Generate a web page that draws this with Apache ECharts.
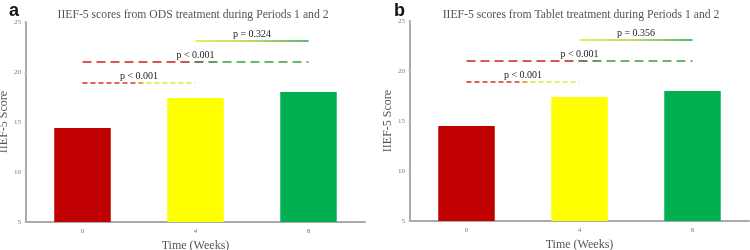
<!DOCTYPE html>
<html>
<head>
<meta charset="utf-8">
<script src="https://cdn.jsdelivr.net/npm/echarts@6/dist/echarts.min.js"></script>
<style>
  html, body { margin: 0; padding: 0; background: #fff; }
  #chart { width: 750px; height: 250px; }
</style>
</head>
<body>
<div id="chart"></div>
<script>
  // data
  const weeks = ['0', '4', '8'];
  const odsScores = [14.4, 17.4, 18.0];
  const tabletScores = [14.5, 17.4, 18.0];
  const odsPValues = ['p < 0.001', 'p < 0.001', 'p = 0.324'];
  const tabletPValues = ['p < 0.001', 'p < 0.001', 'p = 0.356'];
  const bracketLevels = [18.9, 21.0, 23.1];
  const bracketPairs = [[0, 1], [0, 2], [1, 2]];
  const yTicks = [5, 10, 15, 20, 25];

  const barColors = ['#C00000', '#FFFF00', '#00B050'];
  const serif = '"Liberation Serif", "Times New Roman", serif';

  function grad(stops) {
    return new echarts.graphic.LinearGradient(0, 0, 1, 0,
      stops.map(s => ({ offset: s[0], color: s[1] })));
  }

  const bracketStyles = [
    { type: [5, 3], color: grad([[0, '#d42020'], [0.45, '#d83a20'], [0.52, '#f07a20'], [0.58, '#e4e430'], [1, '#e8e840']]) },
    { type: [9, 5], color: grad([[0, '#d42020'], [0.44, '#c42020'], [0.5, '#604020'], [0.56, '#2f6a30'], [0.62, '#3aa040'], [1, '#3aa040']]) },
    { type: 'solid', color: grad([[0, '#dce838'], [0.45, '#a8d040'], [1, '#2a9a3a']]) }
  ];

  const chart = echarts.init(document.getElementById('chart'));

  function axisPair(idx) {
    return {
      x: {
        type: 'category',
        gridIndex: idx,
        data: weeks,
        name: 'Time (Weeks)',
        nameLocation: 'middle',
        nameGap: 15,
        nameTextStyle: { fontFamily: serif, fontSize: 12, color: '#555' },
        axisLine: { lineStyle: { color: '#aaa', width: 2 } },
        axisTick: { show: false },
        axisLabel: { fontFamily: serif, fontSize: 7, color: '#777', margin: 6 }
      },
      y: {
        type: 'value',
        gridIndex: idx,
        min: yTicks[0],
        max: yTicks[yTicks.length - 1],
        interval: 5,
        name: 'IIEF-5 Score',
        nameLocation: 'middle',
        nameGap: 13,
        nameTextStyle: { fontFamily: serif, fontSize: 12, color: '#555' },
        axisLine: { show: true, lineStyle: { color: '#aaa', width: 2 } },
        axisTick: { show: true, length: 2, lineStyle: { color: '#ccc' } },
        splitLine: { show: false },
        axisLabel: { fontFamily: serif, fontSize: 7, color: '#777', margin: 5 }
      }
    };
  }

  function barSeries(idx, scores, pvals) {
    return {
      type: 'bar',
      xAxisIndex: idx,
      yAxisIndex: idx,
      barWidth: '50%',
      data: scores.map((v, i) => ({ value: v, itemStyle: { color: barColors[i] } })),
      markLine: {
        silent: true,
        symbol: ['none', 'none'],
        animation: false,
        data: bracketPairs.map((p, k) => [
          {
            coord: [weeks[p[0]], bracketLevels[k]],
            lineStyle: { width: 1.5, type: bracketStyles[k].type, color: bracketStyles[k].color },
            label: {
              show: true,
              position: 'insideMiddleTop',
              formatter: pvals[k],
              fontFamily: serif,
              fontSize: 10,
              color: '#222',
              distance: 2
            }
          },
          { coord: [weeks[p[1]], bracketLevels[k]] }
        ])
      }
    };
  }

  const a = axisPair(0);
  const b = axisPair(1);
  const titleStyle = { fontFamily: serif, fontSize: 11.7, fontWeight: 'normal', color: '#555' };
  const letterStyle = { fontFamily: '"Liberation Sans", Arial, sans-serif', fontSize: 18, fontWeight: 'bold', color: '#111' };

  chart.setOption({
    animation: false,
    title: [
      { text: 'IIEF-5 scores from ODS treatment during Periods 1 and 2', left: 188, top: 4, textAlign: 'center', textStyle: titleStyle },
      { text: 'IIEF-5 scores from Tablet treatment during Periods 1 and 2', left: 576, top: 4, textAlign: 'center', textStyle: titleStyle },
      { text: 'a', left: 4, top: -3, textStyle: letterStyle },
      { text: 'b', left: 389, top: -3, textStyle: letterStyle }
    ],
    grid: [
      { left: 26, right: 385, top: 22, bottom: 28, outerBoundsMode: 'none' },
      { left: 410, right: 1, top: 21, bottom: 29, outerBoundsMode: 'none' }
    ],
    xAxis: [a.x, b.x],
    yAxis: [a.y, b.y],
    series: [
      barSeries(0, odsScores, odsPValues),
      barSeries(1, tabletScores, tabletPValues)
    ]
  });
</script>
</body>
</html>
